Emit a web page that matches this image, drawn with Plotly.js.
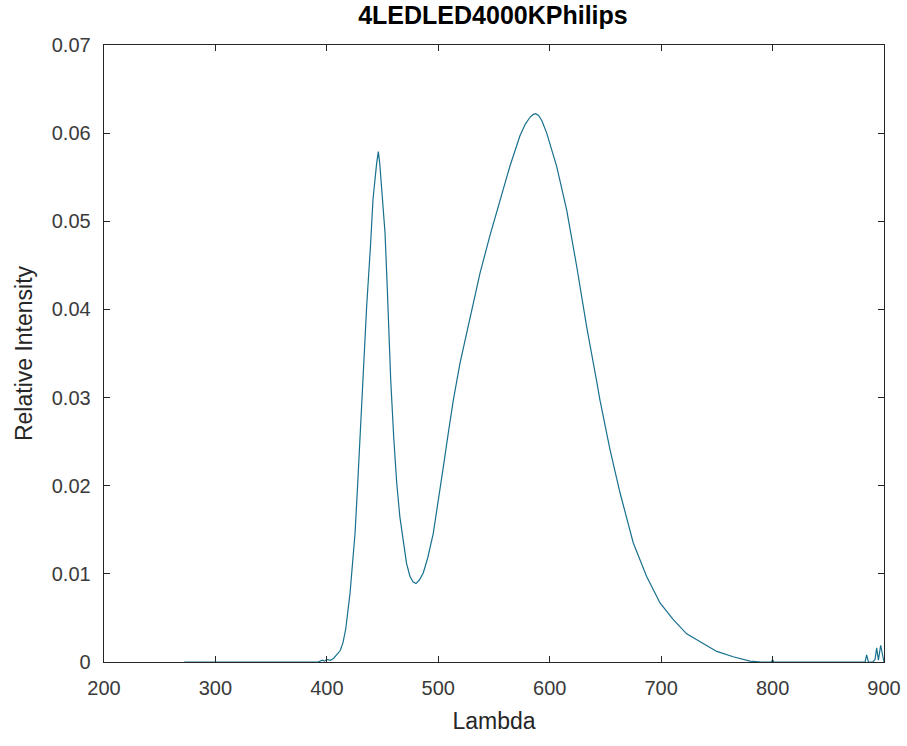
<!DOCTYPE html>
<html>
<head>
<meta charset="utf-8">
<script src="https://cdn.plot.ly/plotly-3.0.1.min.js"></script>
<style>html,body{margin:0;padding:0;background:#fff;}#chart{width:907px;height:746px;}</style>
</head>
<body>
<div id="chart"></div>
<script>
const lambda = [272, 300, 350, 380, 392, 396, 398, 400, 403, 406, 409, 412, 414.5, 417, 420.8, 423, 425.3, 427.5, 429.7, 432.4, 435.7, 439.3, 441.4, 444.7, 446.2, 447.5, 449.2, 452.2, 454.2, 456.0, 457.3, 460, 462.7, 465.5, 468.6, 471.5, 474.6, 477.3, 480.0, 483, 486.5, 490.5, 495.5, 500, 504.5, 509, 513.5, 519.5, 528.5, 537.4, 546.4, 555.4, 564.4, 573.3, 578, 582.3, 585, 587.4, 590, 593, 597.3, 606.3, 615.2, 624.2, 633.2, 642.2, 645.1, 654.1, 663.1, 675.0, 687.0, 699.0, 710.9, 722.9, 734.9, 749.9, 764.7, 779.7, 790, 799, 800, 801, 820, 850, 870, 883, 884.4, 886, 890, 892, 893.4, 895, 897, 900];
const intensity = [0, 0, 0, 0, 0, 0.0002, 0.0001, 0.0003, 0.0002, 0.0004, 0.0008, 0.0013, 0.0022, 0.0038, 0.0078, 0.0108, 0.0146, 0.0198, 0.0255, 0.0320, 0.0403, 0.0475, 0.0525, 0.0566, 0.0579, 0.0565, 0.0539, 0.0487, 0.0425, 0.0365, 0.0320, 0.0255, 0.0203, 0.0165, 0.0135, 0.0112, 0.0097, 0.0091, 0.0089, 0.0093, 0.0101, 0.0118, 0.0146, 0.0182, 0.0221, 0.0260, 0.0297, 0.0339, 0.0391, 0.0441, 0.0484, 0.0524, 0.0563, 0.0597, 0.0610, 0.0618, 0.0621, 0.0622, 0.0620, 0.0614, 0.0600, 0.0562, 0.0513, 0.0449, 0.0380, 0.0318, 0.0297, 0.0241, 0.0192, 0.0135, 0.0097, 0.0067, 0.0048, 0.0032, 0.0023, 0.0012, 0.0006, 0.0001, 0, 0, 0.0003, 0, 0, 0, 0, 0, 0.0008, 0, 0, 0.0003, 0.0016, 0.0002, 0.0019, 0];
const xTicks = [200, 300, 400, 500, 600, 700, 800, 900];
const yTicks = [0, 0.01, 0.02, 0.03, 0.04, 0.05, 0.06, 0.07];
const yTickLabels = ['0', '0.01', '0.02', '0.03', '0.04', '0.05', '0.06', '0.07'];
const chartTitle = '4LEDLED4000KPhilips';
const xTitle = 'Lambda';
const yTitle = 'Relative Intensity';

const font = '"Liberation Sans", Arial, Helvetica, sans-serif';
const axisCol = '#262626';

Plotly.newPlot('chart', [{
  x: lambda, y: intensity, type: 'scatter', mode: 'lines',
  line: {color: '#17708e', width: 1.2}, hoverinfo: 'skip'
}], {
  width: 907, height: 746,
  margin: {l: 104, r: 23, t: 45, b: 84, pad: 0},
  paper_bgcolor: '#ffffff', plot_bgcolor: '#ffffff',
  showlegend: false,
  title: {text: '<b>' + chartTitle + '</b>', font: {family: font, size: 25, color: '#000'}, x: 0.5435, xanchor: 'center', y: 0.979, yanchor: 'middle'},
  xaxis: {
    range: [200, 900], tickvals: xTicks, ticktext: xTicks.map(String),
    ticks: 'inside', ticklen: 6, tickwidth: 1, tickcolor: axisCol,
    showline: true, linecolor: axisCol, linewidth: 1.3, mirror: 'ticks',
    showgrid: false, zeroline: false,
    tickfont: {family: font, size: 20, color: '#3a3a3a'},
    ticklabelstandoff: 8,
    title: {text: xTitle, font: {family: font, size: 23, color: '#262626'}, standoff: 14}
  },
  yaxis: {
    range: [0, 0.07], tickvals: yTicks, ticktext: yTickLabels,
    ticks: 'inside', ticklen: 6, tickwidth: 1, tickcolor: axisCol,
    showline: true, linecolor: axisCol, linewidth: 1.3, mirror: 'ticks',
    showgrid: false, zeroline: false,
    tickfont: {family: font, size: 20, color: '#3a3a3a'},
    ticklabelstandoff: 8,
    title: {text: yTitle, font: {family: font, size: 23, color: '#262626'}, standoff: 12}
  }
}, {staticPlot: true, displayModeBar: false});
</script>
</body>
</html>
